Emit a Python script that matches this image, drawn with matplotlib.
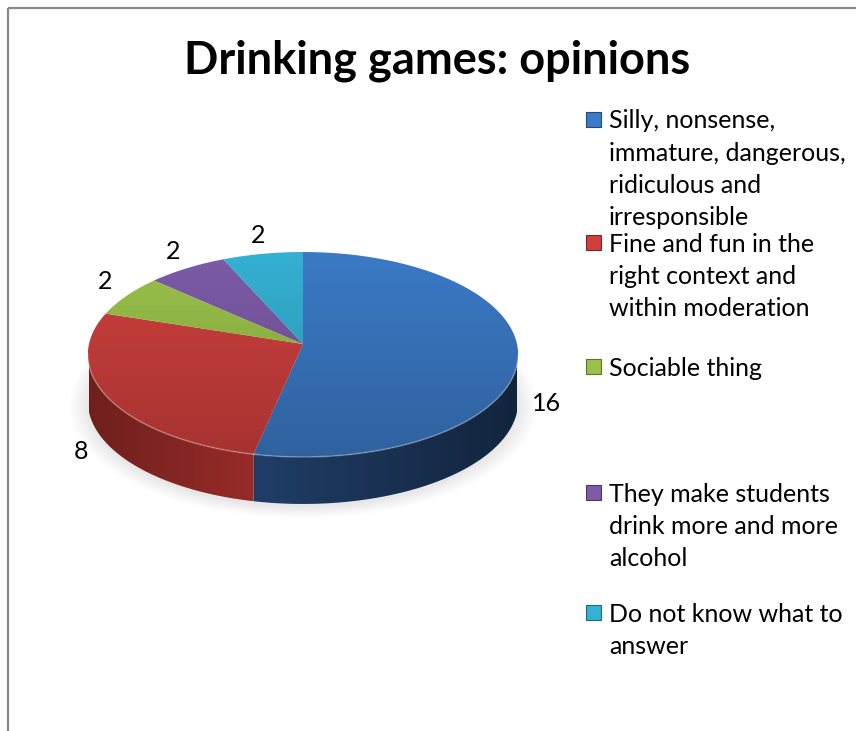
import numpy as np
import matplotlib.pyplot as plt
from matplotlib.patches import Polygon, Rectangle
from matplotlib.colors import to_rgb

plt.rcParams['font.family'] = ['Lato', 'DejaVu Sans']

title = 'Drinking games: opinions'
labels = [
    'Silly, nonsense,\nimmature, dangerous,\nridiculous and\nirresponsible',
    'Fine and fun in the\nright context and\nwithin moderation',
    'Sociable thing',
    'They make students\ndrink more and more\nalcohol',
    'Do not know what to\nanswer',
]
values = [16, 8, 2, 2, 2]
top_colors = ['#3b7ac6', '#cf403d', '#9ac24a', '#7d5ba8', '#34b1d3']
side_colors = ['#1f3d66', '#9a2c29', '#6d8a30', '#553c78', '#22809a']

W, H = 856, 731
fig = plt.figure(figsize=(W / 100, H / 100), dpi=100)
ax = fig.add_axes([0, 0, 1, 1])

# pie geometry in pixel units, simple perspective on a tilted disc
cx, cy = 303, 344
R, S = 214, 101.4
persp = 0.1024
depth = 47


def rim(t, r=1.0, dy=0.0):
    t = np.radians(t)
    X, Z = r * np.sin(t), r * np.cos(t)
    w = 1 + persp * Z
    return np.column_stack([cx + R * X / w, cy - S * Z / w + dy])


def shaded(verts, color, axis, lo, hi, fn, z):
    poly = Polygon(verts, closed=True, facecolor='none', edgecolor='none')
    ax.add_patch(poly)
    base = np.array(to_rgb(color))
    s = np.linspace(lo, hi, 256)
    f = fn(s)
    if axis == 'y':
        img = np.clip(base[None, None, :] * f[:, None, None], 0, 1)
        img = np.repeat(img, 2, axis=1)
        extent = (verts[:, 0].min(), verts[:, 0].max(), hi, lo)
    else:
        img = np.clip(base[None, None, :] * f[None, :, None], 0, 1)
        img = np.repeat(img, 2, axis=0)
        extent = (lo, hi, verts[:, 1].max(), verts[:, 1].min())
    im = ax.imshow(img, extent=extent, origin='upper', aspect='auto',
                   interpolation='bilinear', zorder=z)
    im.set_clip_path(poly)


top_y0, top_y1 = rim(0)[0, 1], rim(180)[0, 1]


def top_light(y):
    return 1.0 - 0.2 * (y - top_y0) / (top_y1 - top_y0)


def side_light(x):
    return 1.0 - 0.4 * np.abs(x - 265) / 250


# soft shadow under the pie
t = np.linspace(0, 360, 200)
for k in range(8):
    pts = rim(t, 1 + 0.012 * k, depth + 3)
    ax.add_patch(Polygon(pts, closed=True, facecolor='#000000',
                         edgecolor='none', alpha=0.012, zorder=0))

# the outer wall is seen between the two silhouette angles
side_a = np.degrees(np.arccos(-persp))
side_b = 360 - side_a

total = sum(values)
edges = np.concatenate([[0], np.cumsum(values)]) * 360.0 / total

for i, (v, c_top, c_side) in enumerate(zip(values, top_colors, side_colors)):
    t0, t1 = edges[i], edges[i + 1]
    a, b = max(t0, side_a), min(t1, side_b)
    if b > a:
        t = np.linspace(a, b, 120)
        wall = np.vstack([rim(t), rim(t[::-1], dy=depth)])
        shaded(wall, c_side, 'x', cx - R, cx + R, side_light, 1)
        ax.plot(*rim(t).T, color='white', alpha=0.25, lw=1.2, zorder=3)
    t = np.linspace(t0, t1, 120)
    face = np.vstack([[cx, cy], rim(t)])
    shaded(face, c_top, 'y', top_y0, top_y1, top_light, 2)

    # value label just outside the slice
    m = (t0 + t1) / 2
    lx, ly = rim(np.array([m]), 1.13)[0]
    ly += depth if np.cos(np.radians(m)) < 0 else -8
    ax.text(lx, ly, str(v), fontsize=18, ha='center', va='center', zorder=5)

ax.text(437, 73, title, fontsize=32.5, fontweight='bold', ha='center',
        va='baseline')

# legend
first_lines = [120, 243, 367, 493, 613]
line_h = 32.3
for lab, col, y0 in zip(labels, top_colors, first_lines):
    ax.add_patch(Rectangle((586, y0 - 8), 15, 15, facecolor=col,
                           edgecolor=np.array(to_rgb(col)) * 0.6, lw=0.8))
    for j, line in enumerate(lab.split('\n')):
        ax.text(609, y0 + 8.5 + j * line_h, line, fontsize=18,
                ha='left', va='baseline')

# chart frame
ax.add_patch(Rectangle((8.5, 7.5), 900, 800, facecolor='none',
                       edgecolor='#888888', lw=1.6, zorder=6))

ax.set_xlim(0, W)
ax.set_ylim(H, 0)
ax.axis('off')
fig.savefig('out.png', dpi=100)
